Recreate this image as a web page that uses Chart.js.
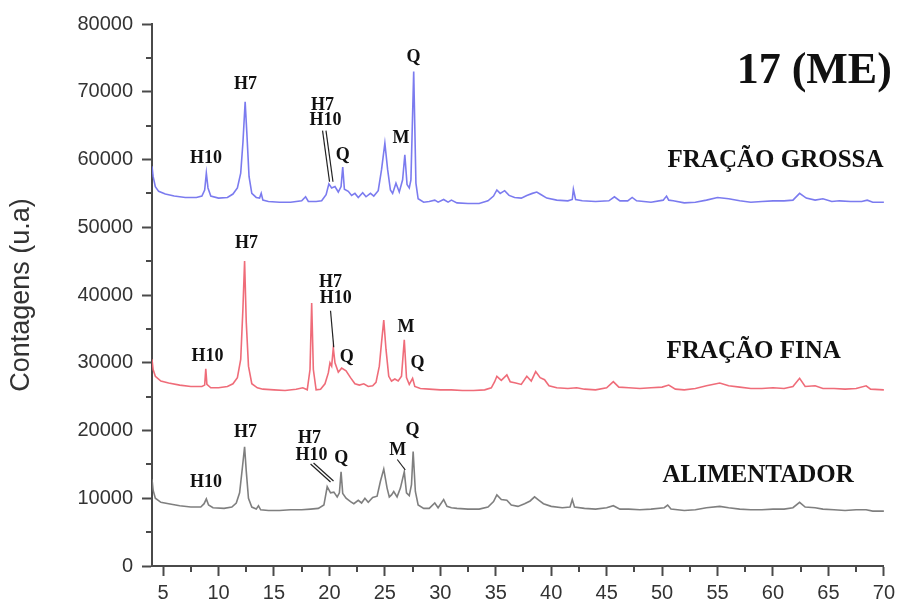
<!DOCTYPE html>
<html>
<head>
<meta charset="utf-8">
<script src="https://cdn.jsdelivr.net/npm/chart.js@4.4.1/dist/chart.umd.min.js"></script>
<style>
  html, body { margin: 0; padding: 0; background: #ffffff; }
  #wrap { width: 900px; height: 602px; }
</style>
</head>
<body>
<div id="wrap"><canvas id="xrd" width="900" height="602"></canvas></div>
<script>
// Difratogramas de raios X: amostra 17 (ME) – 2θ (graus) x contagens

const xTicks = [5, 10, 15, 20, 25, 30, 35, 40, 45, 50, 55, 60, 65, 70];
const yTicks = [0, 10000, 20000, 30000, 40000, 50000, 60000, 70000, 80000];

// [2θ, contagens]
const fracaoGrossa = [
  [4.0, 59000], [4.1, 57500], [4.3, 56000], [4.6, 55300], [5.2, 54900], [6.0, 54600],
  [7.0, 54400], [8.0, 54400], [8.5, 54600], [8.75, 55500], [8.9, 58000], [9.05, 55800],
  [9.3, 54600], [10.0, 54300], [10.8, 54400], [11.3, 54900], [11.7, 55800], [12.0, 58000],
  [12.2, 62500], [12.4, 68500], [12.55, 64000], [12.75, 57500], [13.0, 55000], [13.4, 54400],
  [13.7, 54300], [13.85, 55000], [14.0, 54000], [14.5, 53800], [15.5, 53700], [16.5, 53700],
  [17.5, 53900], [17.85, 54500], [18.1, 53800], [18.8, 53800], [19.3, 53900], [19.7, 54800],
  [19.95, 56400], [20.2, 55800], [20.5, 56000], [20.8, 55200], [21.05, 56000], [21.2, 58900],
  [21.35, 55600], [21.7, 55300], [22.0, 54700], [22.3, 55000], [22.6, 54400], [23.0, 55100],
  [23.3, 54500], [23.7, 55000], [24.0, 54600], [24.4, 55400], [24.7, 58500], [25.0, 62400],
  [25.25, 58500], [25.5, 55500], [25.7, 55000], [26.0, 56500], [26.3, 55200], [26.6, 57000],
  [26.8, 60700], [27.0, 56300], [27.2, 55800], [27.35, 57000], [27.6, 73000], [27.8, 56500],
  [28.0, 54200], [28.5, 53700], [29.0, 53800], [29.5, 54000], [29.8, 53700], [30.3, 54100],
  [30.7, 53700], [31.0, 54000], [31.5, 53600], [32.5, 53500], [33.5, 53500], [34.3, 53900],
  [34.8, 54600], [35.1, 55500], [35.4, 55000], [35.8, 55400], [36.2, 54700], [36.7, 54400],
  [37.3, 54300], [37.8, 54700], [38.3, 55000], [38.7, 55200], [39.1, 54800], [39.6, 54300],
  [40.5, 54000], [41.5, 53900], [41.9, 54100], [42.0, 55600], [42.2, 54100], [42.8, 53900],
  [44.0, 53800], [45.2, 53900], [45.7, 54500], [46.2, 53900], [46.9, 53900], [47.3, 54400],
  [47.7, 53900], [49.0, 53700], [50.1, 54000], [50.4, 54600], [50.6, 54000], [51.0, 53900],
  [52.0, 53600], [53.0, 53700], [54.0, 54000], [55.0, 54400], [56.0, 54200], [57.0, 53900],
  [58.0, 53700], [59.0, 53800], [60.0, 53900], [61.0, 53900], [61.8, 54000], [62.4, 55000],
  [63.0, 54300], [63.8, 54000], [64.5, 54200], [65.3, 53800], [66.0, 53900], [67.0, 53800],
  [68.0, 53800], [68.5, 54000], [69.0, 53700], [70.0, 53700]
];

const fracaoFina = [
  [4.0, 30500], [4.1, 29000], [4.3, 28000], [4.8, 27300], [5.5, 27000], [6.5, 26700],
  [7.5, 26500], [8.5, 26500], [8.75, 26700], [8.85, 29100], [8.95, 26800], [9.3, 26300],
  [10.0, 26300], [10.8, 26500], [11.3, 26900], [11.7, 27800], [12.0, 30500], [12.2, 38000],
  [12.35, 45000], [12.5, 36000], [12.7, 29500], [13.0, 26900], [13.5, 26300], [14.0, 26100],
  [15.0, 26000], [16.0, 25900], [17.0, 26100], [17.6, 26300], [18.0, 26000], [18.25, 29000],
  [18.4, 38800], [18.55, 29000], [18.8, 26000], [19.2, 26100], [19.6, 26900], [19.9, 28500],
  [20.05, 30000], [20.2, 29500], [20.35, 32200], [20.5, 30000], [20.8, 28600], [21.1, 29200],
  [21.5, 28800], [21.9, 27800], [22.3, 26900], [22.7, 26700], [23.1, 26900], [23.5, 26500],
  [23.9, 26600], [24.2, 27100], [24.5, 29500], [24.7, 33000], [24.9, 36300], [25.1, 32000],
  [25.35, 28000], [25.6, 27300], [25.9, 27600], [26.2, 27300], [26.5, 28000], [26.75, 33400],
  [26.95, 27800], [27.2, 26800], [27.5, 27700], [27.7, 26500], [28.2, 26200], [29.0, 26100],
  [30.0, 26000], [31.0, 26000], [32.0, 25900], [33.0, 25900], [34.0, 26000], [34.6, 26300],
  [34.9, 27200], [35.1, 28000], [35.5, 27400], [36.0, 28200], [36.3, 27200], [36.8, 27000],
  [37.3, 26800], [37.8, 28000], [38.2, 27300], [38.6, 28700], [39.0, 27800], [39.4, 27500],
  [39.8, 26600], [40.5, 26300], [41.5, 26200], [42.3, 26300], [43.0, 26100], [44.0, 26000],
  [45.0, 26300], [45.6, 27200], [46.1, 26400], [47.0, 26300], [48.0, 26200], [49.0, 26300],
  [50.0, 26400], [50.6, 26700], [51.2, 26100], [52.0, 26000], [53.0, 26200], [54.0, 26600],
  [55.2, 27000], [56.0, 26600], [57.0, 26400], [58.0, 26200], [59.0, 26200], [60.0, 26300],
  [61.0, 26200], [61.8, 26500], [62.4, 27700], [62.9, 26500], [63.8, 26600], [64.5, 26200],
  [65.5, 26200], [66.5, 26100], [67.5, 26200], [68.4, 26600], [68.8, 26100], [70.0, 26000]
];

const alimentador = [
  [4.0, 12800], [4.1, 11200], [4.3, 10000], [4.8, 9400], [5.5, 9200], [6.5, 8900],
  [7.5, 8700], [8.4, 8700], [8.7, 9200], [8.9, 9900], [9.1, 9000], [9.5, 8600],
  [10.5, 8500], [11.2, 8700], [11.6, 9300], [11.9, 10800], [12.15, 14500], [12.35, 17600],
  [12.5, 14000], [12.7, 10000], [13.0, 8700], [13.4, 8400], [13.6, 8900], [13.8, 8300],
  [14.5, 8200], [15.5, 8200], [16.5, 8300], [17.5, 8300], [18.3, 8400], [19.0, 8500],
  [19.5, 9000], [19.8, 11700], [20.1, 10800], [20.4, 10900], [20.7, 10200], [20.9, 10800],
  [21.05, 13900], [21.2, 10700], [21.5, 10000], [21.9, 9500], [22.2, 9200], [22.6, 9700],
  [22.9, 9300], [23.2, 10000], [23.5, 9400], [23.9, 10100], [24.3, 10300], [24.6, 12500],
  [24.9, 14300], [25.2, 11500], [25.4, 10200], [25.6, 10500], [25.8, 11000], [26.1, 10200],
  [26.4, 11500], [26.75, 13900], [26.95, 10800], [27.2, 10400], [27.4, 12000], [27.55, 16900],
  [27.75, 11000], [28.0, 9000], [28.5, 8500], [29.0, 8500], [29.5, 9300], [29.8, 8600],
  [30.3, 9800], [30.6, 8800], [31.0, 8600], [31.5, 8500], [32.5, 8400], [33.5, 8400],
  [34.3, 8700], [34.8, 9500], [35.1, 10500], [35.5, 9800], [36.0, 9700], [36.4, 9000],
  [37.0, 8800], [37.6, 9200], [38.1, 9600], [38.5, 10200], [38.9, 9700], [39.3, 9200],
  [40.0, 8800], [41.0, 8600], [41.7, 8700], [41.9, 9800], [42.1, 8700], [43.0, 8500],
  [44.0, 8400], [45.0, 8600], [45.6, 8900], [46.2, 8400], [47.0, 8400], [48.0, 8300],
  [49.0, 8400], [50.2, 8600], [50.5, 9000], [50.8, 8400], [52.0, 8200], [53.0, 8300],
  [54.0, 8600], [55.2, 8800], [56.0, 8600], [57.0, 8400], [58.0, 8300], [59.0, 8300],
  [60.0, 8400], [61.0, 8400], [61.8, 8600], [62.4, 9400], [62.9, 8700], [63.8, 8600],
  [64.5, 8400], [65.5, 8300], [66.5, 8200], [67.5, 8300], [68.4, 8300], [69.0, 8100],
  [70.0, 8100]
];

// Identificação das fases: texto, posição (2θ, contagens)
const peakLabels = [
  // fração grossa
  { t: 'H10', x: 8.86, y: 59440 }, { t: 'H7', x: 12.43, y: 70360 },
  { t: 'H7', x: 19.38, y: 67300 }, { t: 'H10', x: 19.65, y: 65090 },
  { t: 'Q', x: 21.20, y: 59930 }, { t: 'M', x: 26.45, y: 62390 }, { t: 'Q', x: 27.59, y: 74430 },
  // fração fina
  { t: 'H10', x: 9.01, y: 30300 }, { t: 'H7', x: 12.52, y: 46890 },
  { t: 'H7', x: 20.10, y: 41220 }, { t: 'H10', x: 20.57, y: 38770 },
  { t: 'Q', x: 21.56, y: 30150 }, { t: 'M', x: 26.90, y: 34580 }, { t: 'Q', x: 27.95, y: 29180 },
  // alimentador
  { t: 'H10', x: 8.88, y: 11700 }, { t: 'H7', x: 12.43, y: 19080 },
  { t: 'H7', x: 18.21, y: 18110 }, { t: 'H10', x: 18.39, y: 15650 },
  { t: 'Q', x: 21.06, y: 15160 }, { t: 'M', x: 26.15, y: 16380 }, { t: 'Q', x: 27.50, y: 19340 }
];

// Linhas de chamada: [2θ inicial, contagens inicial, 2θ final, contagens final]
const leaderLines = [
  [19.38, 64250, 20.01, 56720], [19.69, 64250, 20.32, 56720],
  [20.10, 37680, 20.39, 32280],
  [18.30, 15060, 20.10, 12400], [18.57, 15200, 20.37, 12550],
  [26.12, 15720, 26.84, 14170]
];

const sampleLabels = [
  { t: 'FRAÇÃO GROSSA', x: 50.49, y: 58890 },
  { t: 'FRAÇÃO FINA', x: 50.40, y: 30700 },
  { t: 'ALIMENTADOR', x: 50.04, y: 12400 }
];

const sampleTitle = { t: '17 (ME)', x: 70.72, y: 71290 };

const AXIS_COLOR = '#4a4a4a';
const TICK_TEXT = '#333333';

const toPoints = arr => arr.map(([x, y]) => ({ x, y }));

// Marcas secundárias a meio caminho entre as principais
const minorTicks = {
  id: 'minorTicks',
  afterDraw(chart) {
    const { ctx, scales: { x, y } } = chart;
    ctx.save();
    ctx.strokeStyle = AXIS_COLOR;
    ctx.lineWidth = 2;
    ctx.beginPath();
    for (let i = 0; i < xTicks.length - 1; i++) {
      const px = Math.round(x.getPixelForValue((xTicks[i] + xTicks[i + 1]) / 2));
      ctx.moveTo(px, y.bottom);
      ctx.lineTo(px, y.bottom + 6);
    }
    for (let i = 0; i < yTicks.length - 1; i++) {
      const py = Math.round(y.getPixelForValue((yTicks[i] + yTicks[i + 1]) / 2));
      ctx.moveTo(x.left, py);
      ctx.lineTo(x.left - 6, py);
    }
    ctx.stroke();
    ctx.restore();
  }
};

// Rótulos das fases, linhas de chamada e nomes das amostras
const annotations = {
  id: 'annotations',
  afterDatasetsDraw(chart) {
    const { ctx, scales: { x, y } } = chart;
    ctx.save();
    ctx.fillStyle = '#111';
    ctx.textBaseline = 'alphabetic';

    ctx.strokeStyle = '#222';
    ctx.lineWidth = 1.2;
    leaderLines.forEach(([x1, y1, x2, y2]) => {
      ctx.beginPath();
      ctx.moveTo(x.getPixelForValue(x1), y.getPixelForValue(y1));
      ctx.lineTo(x.getPixelForValue(x2), y.getPixelForValue(y2));
      ctx.stroke();
    });

    ctx.font = 'bold 18px "Liberation Serif", "Times New Roman", serif';
    ctx.textAlign = 'center';
    peakLabels.forEach(l => ctx.fillText(l.t, x.getPixelForValue(l.x), y.getPixelForValue(l.y)));

    ctx.font = 'bold 25px "Liberation Serif", "Times New Roman", serif';
    ctx.textAlign = 'left';
    sampleLabels.forEach(l => ctx.fillText(l.t, x.getPixelForValue(l.x), y.getPixelForValue(l.y)));

    ctx.font = 'bold 44px "Liberation Serif", "Times New Roman", serif';
    ctx.textAlign = 'right';
    ctx.fillText(sampleTitle.t, x.getPixelForValue(sampleTitle.x), y.getPixelForValue(sampleTitle.y));
    ctx.restore();
  }
};

const lineStyle = color => ({
  borderColor: color,
  borderWidth: 1.6,
  pointRadius: 0,
  tension: 0,
  fill: false
});

new Chart(document.getElementById('xrd'), {
  type: 'line',
  data: {
    datasets: [
      { label: 'FRAÇÃO GROSSA', data: toPoints(fracaoGrossa), ...lineStyle('rgba(116,116,238,0.95)') },
      { label: 'FRAÇÃO FINA', data: toPoints(fracaoFina), ...lineStyle('rgba(238,100,114,0.95)') },
      { label: 'ALIMENTADOR', data: toPoints(alimentador), ...lineStyle('rgba(120,120,120,0.95)') }
    ]
  },
  options: {
    responsive: false,
    animation: false,
    devicePixelRatio: 1,
    layout: { padding: { top: 24, right: 15, left: 0, bottom: 0 } },
    plugins: { legend: { display: false }, tooltip: { enabled: false } },
    scales: {
      x: {
        type: 'linear',
        min: 4,
        max: 70,
        afterBuildTicks: s => { s.ticks = xTicks.map(v => ({ value: v })); },
        afterFit: s => { s.height = 36; },
        border: { display: true, color: AXIS_COLOR, width: 2 },
        grid: { display: true, drawOnChartArea: false, drawTicks: true, tickLength: 10, tickColor: AXIS_COLOR, tickWidth: 2 },
        ticks: {
          color: TICK_TEXT,
          font: { family: '"Liberation Sans", Arial, sans-serif', size: 20 },
          padding: 5,
          maxRotation: 0,
          autoSkip: false
        }
      },
      y: {
        type: 'linear',
        min: 0,
        max: 80000,
        afterBuildTicks: s => { s.ticks = yTicks.map(v => ({ value: v })); },
        afterFit: s => { s.width = 152; },
        border: { display: true, color: AXIS_COLOR, width: 2 },
        grid: { display: true, drawOnChartArea: false, drawTicks: true, tickLength: 10, tickColor: AXIS_COLOR, tickWidth: 2 },
        ticks: {
          color: TICK_TEXT,
          font: { family: '"Liberation Sans", Arial, sans-serif', size: 20 },
          padding: 9,
          autoSkip: false,
          callback: v => String(v)
        },
        title: {
          display: true,
          text: 'Contagens (u.a)',
          color: '#333',
          font: { family: '"Liberation Sans", Arial, sans-serif', size: 27 },
          padding: { top: 5, bottom: 0 }
        }
      }
    }
  },
  plugins: [minorTicks, annotations]
});
</script>
</body>
</html>
